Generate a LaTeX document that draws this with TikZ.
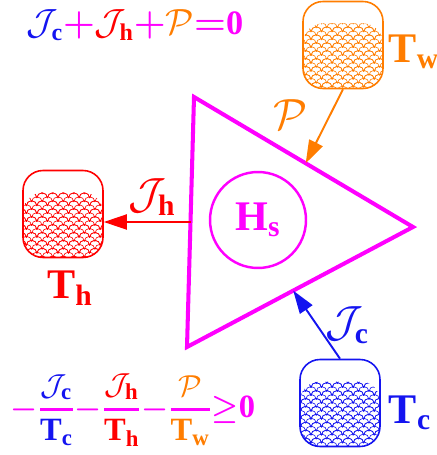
\documentclass[tikz,border=0pt]{standalone}
\usepackage{amsmath}
\usepackage{fontspec}
\setmainfont{Liberation Serif}
\usetikzlibrary{arrows.meta, calc, patterns}
\definecolor{cmag}{RGB}{255, 0, 255}
\definecolor{cblue}{RGB}{20, 20, 240}
\definecolor{cred}{RGB}{255, 0, 0}
\definecolor{corange}{RGB}{255, 125, 0}

\pgfdeclarepatternformonly{scales}{\pgfqpoint{-3.5pt}{-0.5pt}}{\pgfqpoint{9.5pt}{5.5pt}}{\pgfqpoint{6pt}{4.5pt}}{
  \pgfsetlinewidth{0.35pt}
  \pgfpathmoveto{\pgfqpoint{0pt}{0pt}}
  \pgfpatharc{180}{0}{3pt}
  \pgfpathmoveto{\pgfqpoint{-3pt}{2.25pt}}
  \pgfpatharc{180}{0}{3pt}
  \pgfpathmoveto{\pgfqpoint{3pt}{2.25pt}}
  \pgfpatharc{180}{0}{3pt}
  \pgfusepath{stroke}
}

\newcommand{\ratio}[3]{\genfrac{}{}{1.6pt}{0}{\color{#1}#2}{\color{#1}#3}}

\tikzset{
  tank/.style={draw=#1, line width=0.9pt, rounded corners=0.4cm,
    minimum width=1.6cm, minimum height=1.74cm,
    path picture={\fill[pattern=scales, pattern color=#1]
      ([yshift=-0.44cm]path picture bounding box.north west)
      rectangle (path picture bounding box.south east);}},
  flow/.style={-{Triangle[length=0.46cm, width=0.3cm]}, line width=1.1pt},
  eqn/.style={font=\fontsize{19.5}{23}\selectfont}
}

\begin{document}
\begin{tikzpicture}[x=0.02cm, y=-0.02cm, font=\fontsize{24}{28}\selectfont]
  \useasboundingbox (0,0) rectangle (436,455);

  % system
  \coordinate (ht) at (194,97);
  \coordinate (hr) at (413,227);
  \coordinate (hb) at (187,347);
  \draw[cmag, line width=2.3pt, line join=miter] (ht) -- (hr) -- (hb) -- cycle;
  \node[circle, draw=cmag, line width=1.4pt, minimum size=1.92cm, inner sep=0pt, text=cmag] (hs) at (258,220)
    {$\textbf{H}_{\textbf{s}}$};

  % reservoirs
  \node[tank=corange] (tw) at (343,45) {};
  \node[tank=cred] (th) at (63,214) {};
  \node[tank=cblue] (tc) at (340,403) {};
  \node[text=corange] (lw) at (414,52) {$\textbf{T}_{\textbf{w}}$};
  \node[text=cred] (lh) at (70,288) {$\textbf{T}_{\textbf{h}}$};
  \node[text=cblue] (lc) at (410,413) {$\textbf{T}_{\textbf{c}}$};

  % flows
  \coordinate (pin) at ($(ht)!0.51!(hr)$);
  \coordinate (cin) at ($(hb)!0.47!(hr)$);
  \coordinate (hout) at ($(ht)!0.5!(hb)$);
  \draw[flow, corange] (tw.south) -- (pin);
  \draw[flow, cblue] (tc.north) -- (cin);
  \draw[flow, cred] (hout) -- (hout -| th.east);
  \node[text=corange] (pl) at (290,115) {$\mathcal{P}$};
  \node[text=cred] (jh) at (152,197) {$\mathcal{J}_{\textbf{h}}$};
  \node[text=cblue] (jc) at (347,325) {$\mathcal{J}_{\textbf{c}}$};

  % balances
  \node[eqn, text=cmag] (en) at (135,25)
    {${\color{cblue}\mathcal{J}_{\textbf{c}}}{\boldsymbol{+}}{\color{cred}\mathcal{J}_{\textbf{h}}}{\boldsymbol{+}}{\color{corange}\mathcal{P}}{\boldsymbol{=}}\textbf{0}$};
  \node[eqn, font=\fontsize{18.5}{22}\selectfont, text=cmag] (ent) at (133,410)
    {${\boldsymbol{-}}\ratio{cblue}{\mathcal{J}_{\textbf{c}}}{\textbf{T}_{\textbf{c}}}{\boldsymbol{-}}\ratio{cred}{\mathcal{J}_{\textbf{h}}}{\textbf{T}_{\textbf{h}}}{\boldsymbol{-}}\ratio{corange}{\mathcal{P}}{\textbf{T}_{\textbf{w}}}{\boldsymbol{\geq}}\textbf{0}$};
\end{tikzpicture}
\end{document}
